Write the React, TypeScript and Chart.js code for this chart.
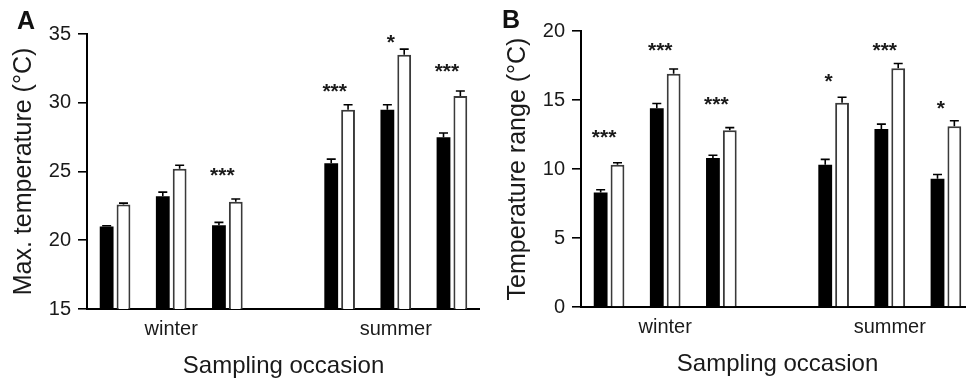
import React, { useEffect, useRef } from "react";
import { Chart, registerables } from "chart.js";

Chart.register(...registerables);

const FONT = "'Liberation Sans', Arial, Helvetica, sans-serif";
Chart.defaults.font.family = FONT;

// Shared x categories (slot 3 is the empty gap between seasons)
const tickLabels = ["", "winter", "", "", "", "summer", ""];

// Panel A: maximum temperature (°C)
const maxTempBlack = [21.0, 23.2, 21.1, null, 25.6, 29.5, 27.5];
const maxTempBlackErr = [0.05, 0.3, 0.2, null, 0.3, 0.35, 0.3];
const maxTempWhite = [22.6, 25.2, 22.8, null, 29.5, 33.5, 30.5];
const maxTempWhiteErr = [0.1, 0.25, 0.2, null, 0.35, 0.4, 0.35];
const maxTempSig = ["", "", "***", "", "***", "*", "***"];
const maxTempSigY = [null, null, 25.1, null, 31.2, 34.8, 32.7];
const maxTempTicks = { min: 15, max: 35, step: 5 };

// Panel B: temperature range (°C)
const rangeBlack = [8.3, 14.4, 10.8, null, 10.3, 12.9, 9.3];
const rangeBlackErr = [0.2, 0.35, 0.2, null, 0.4, 0.35, 0.3];
const rangeWhite = [10.3, 16.9, 12.8, null, 14.8, 17.3, 13.1];
const rangeWhiteErr = [0.15, 0.35, 0.2, null, 0.4, 0.35, 0.4];
const rangeSig = ["***", "***", "***", "", "*", "***", "*"];
const rangeSigY = [12.65, 18.95, 15.1, null, 16.75, 19.0, 14.8];
const rangeTicks = { min: 0, max: 20, step: 5 };

const decorPlugin = {
  id: "decor",
  afterDatasetsDraw(chart: any, _args: any, opts: any) {
    const ctx = chart.ctx;
    const y = chart.scales.y;
    ctx.save();
    ctx.strokeStyle = "#000";
    ctx.lineWidth = 1.6;
    chart.data.datasets.forEach((ds: any, di: number) => {
      const meta = chart.getDatasetMeta(di);
      const errs = opts.errors[di];
      meta.data.forEach((bar: any, i: number) => {
        const v = ds.data[i];
        if (v == null || errs[i] == null) return;
        const top = y.getPixelForValue(v + errs[i]);
        ctx.beginPath();
        ctx.moveTo(bar.x, bar.y);
        ctx.lineTo(bar.x, top);
        ctx.moveTo(bar.x - 4.5, top);
        ctx.lineTo(bar.x + 4.5, top);
        ctx.stroke();
      });
    });
    ctx.restore();
  },
  afterDraw(chart: any, _args: any, opts: any) {
    const ctx = chart.ctx;
    const x = chart.scales.x;
    const y = chart.scales.y;
    ctx.save();
    ctx.fillStyle = "#1a1a1a";
    ctx.font = `bold 21px ${FONT}`;
    ctx.textAlign = "center";
    ctx.textBaseline = "alphabetic";
    opts.sig.forEach((s: string, i: number) => {
      if (!s || opts.sigY[i] == null) return;
      const px = x.getPixelForValue(i) - 5;
      const py = y.getPixelForValue(opts.sigY[i]) + 12;
      ctx.fillText(s, px, py);
    });
    ctx.font = `bold 25px ${FONT}`;
    ctx.textAlign = "left";
    ctx.fillStyle = "#111";
    ctx.fillText(opts.letter, opts.letterX, opts.letterY);
    ctx.restore();
  },
};

function makeConfig(p: any) {
  return {
    type: "bar",
    data: {
      labels: tickLabels,
      datasets: [
        {
          data: p.black,
          backgroundColor: "#000",
          borderColor: "#222",
          borderWidth: 0,
          categoryPercentage: 0.6,
          barPercentage: 0.82,
        },
        {
          data: p.white,
          backgroundColor: "#fff",
          borderColor: "#3a3a3a",
          borderWidth: 2,
          categoryPercentage: 0.6,
          barPercentage: 0.82,
        },
      ],
    },
    plugins: [decorPlugin],
    options: {
      responsive: false,
      animation: false,
      devicePixelRatio: 1,
      layout: { padding: { top: p.top, left: 0, right: 0, bottom: 0 } },
      plugins: {
        legend: { display: false },
        tooltip: { enabled: false },
        decor: {
          errors: [p.blackErr, p.whiteErr],
          sig: p.sig,
          sigY: p.sigY,
          letter: p.letter,
          letterX: p.letterX,
          letterY: p.letterY,
        },
      },
      scales: {
        x: {
          offset: true,
          grid: { display: false, drawTicks: false },
          border: { display: true, color: "#000", width: 2 },
          ticks: {
            color: "#1a1a1a",
            font: { size: 20 },
            padding: 8,
            autoSkip: false,
            maxRotation: 0,
          },
          title: {
            display: true,
            text: "Sampling occasion",
            color: "#1a1a1a",
            font: { size: 24 },
            padding: { top: 0, bottom: p.xTitlePad },
          },
          afterFit: (s: any) => {
            s.height = p.xHeight;
          },
        },
        y: {
          min: p.ticks.min,
          max: p.ticks.max,
          ticks: {
            stepSize: p.ticks.step,
            color: "#1a1a1a",
            font: { size: 20 },
            padding: 7,
          },
          grid: {
            display: true,
            drawOnChartArea: false,
            drawTicks: true,
            tickLength: 9,
            color: "#000",
            lineWidth: 1.6,
          },
          border: { display: true, color: "#000", width: 2 },
          title: {
            display: true,
            text: p.yTitle,
            color: "#1a1a1a",
            font: { size: 25 },
            padding: { top: p.yTitlePad, bottom: 0 },
          },
          afterFit: (s: any) => {
            s.width = p.yWidth;
          },
        },
      },
    },
  };
}

function Panel(props: { p: any; left: number; width: number }) {
  const ref = useRef<HTMLCanvasElement>(null);
  useEffect(() => {
    if (!ref.current) return;
    const chart = new Chart(ref.current, makeConfig(props.p) as any);
    return () => chart.destroy();
  }, []);
  return (
    <canvas
      ref={ref}
      width={props.width}
      height={382}
      style={{
        position: "absolute",
        left: props.left,
        top: 0,
        width: props.width,
        height: 382,
      }}
    />
  );
}

const panelA = {
  black: maxTempBlack,
  blackErr: maxTempBlackErr,
  white: maxTempWhite,
  whiteErr: maxTempWhiteErr,
  sig: maxTempSig,
  sigY: maxTempSigY,
  ticks: maxTempTicks,
  yTitle: "Max. temperature (°C)",
  letter: "A",
  letterX: 17,
  letterY: 29,
  top: 34,
  yWidth: 87,
  xHeight: 73,
  yTitlePad: 9,
  xTitlePad: 1,
};

const panelB = {
  black: rangeBlack,
  blackErr: rangeBlackErr,
  white: rangeWhite,
  whiteErr: rangeWhiteErr,
  sig: rangeSig,
  sigY: rangeSigY,
  ticks: rangeTicks,
  yTitle: "Temperature range (°C)",
  letter: "B",
  letterX: 22,
  letterY: 28,
  top: 31,
  yWidth: 101,
  xHeight: 75,
  yTitlePad: 23,
  xTitlePad: 3,
};

export default function App() {
  return (
    <div
      style={{
        position: "fixed",
        left: 0,
        top: 0,
        width: 966,
        height: 382,
        overflow: "hidden",
        background: "#fff",
      }}
    >
      <Panel p={panelA} left={0} width={480} />
      <Panel p={panelB} left={480} width={494} />
    </div>
  );
}
